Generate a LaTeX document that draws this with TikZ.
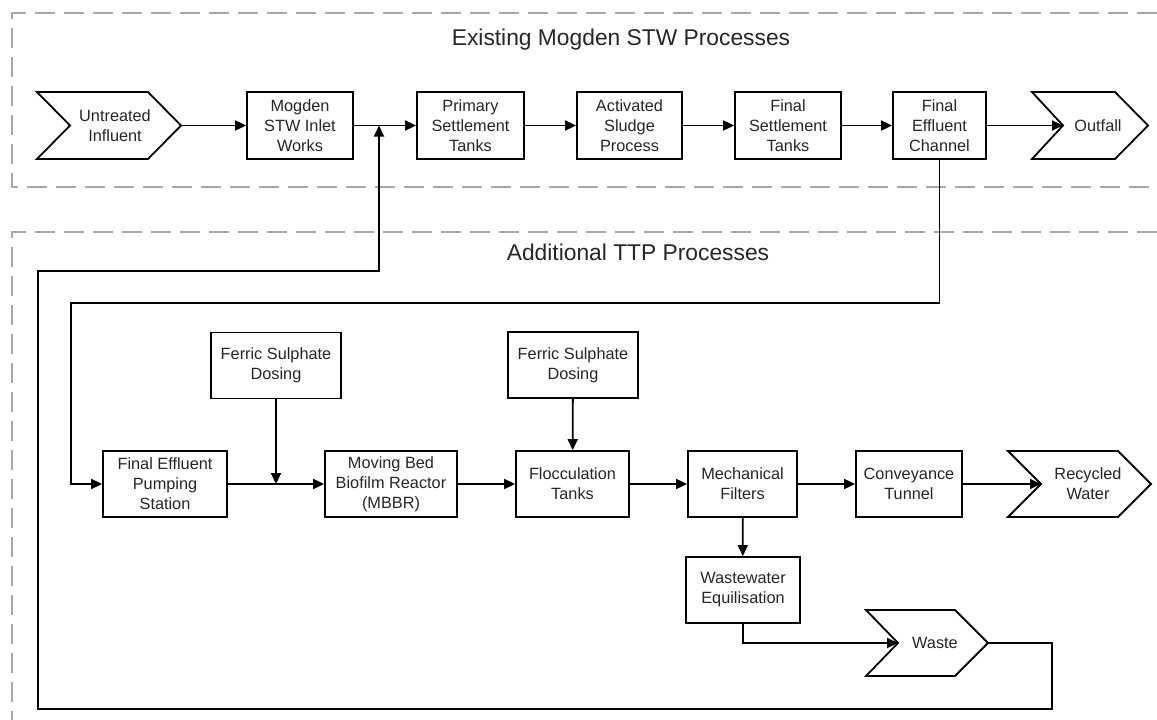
\documentclass[tikz,border=0pt]{standalone}
\usepackage{fontspec}
\setmainfont{Liberation Sans}
\usetikzlibrary{arrows.meta}
\definecolor{txt}{HTML}{262626}
\definecolor{dashc}{HTML}{A8A8A8}
\newcommand{\boxfont}{\fontsize{16.3}{20}\selectfont}
\newcommand{\titlefont}{\fontsize{22.8}{26}\selectfont}
\begin{document}
\begin{tikzpicture}[x=1pt,y=-1pt,
  box/.style={draw=black, line width=1.8pt, minimum width=#1, minimum height=67pt, inner sep=0pt, align=center, font=\boxfont, text=txt},
  sbox/.style={box=#1, minimum height=66pt},
  chev/.style={draw=black, line width=1.8pt, line join=miter},
  chevtext/.style={inner sep=0pt, align=center, font=\boxfont, text=txt},
  flow/.style={draw=black, line width=1.8pt, -{Triangle[length=11pt,width=10pt]}},
  plain/.style={draw=black, line width=1.8pt},
  group/.style={draw=dashc, line width=1.5pt, dash pattern=on 20pt off 9pt},
  title/.style={font=\titlefont, text=txt, inner sep=0pt}]
\useasboundingbox (0,0) rectangle (1157,720);

% group frames
\draw[group] (1157,13) -- (12,13) -- (12,187) -- (1157,187);
\draw[group] (1157,232) -- (12,232) -- (12,720);
\node[title] (t1) at (621,40) {Existing Mogden STW Processes};
\node[title] (t2) at (638,252) {Additional TTP Processes};

% top row
\draw[chev] (37,92) -- (148,92) -- (181,125.5) -- (148,159) -- (37,159) -- (70,125.5) -- cycle;
\node[chevtext] (untreated) at (115,125.5) {Untreated\\Influent};
\coordinate (untreatedtip) at (181,125.5);
\node[box=106] (mogden) at (300,125.5) {Mogden\\STW Inlet\\Works};
\node[box=107] (primary) at (470.5,125.5) {Primary\\Settlement\\Tanks};
\node[box=105] (activated) at (629.5,125.5) {Activated\\Sludge\\Process};
\node[box=106] (fst) at (788,125.5) {Final\\Settlement\\Tanks};
\node[box=93] (fec) at (939.5,125.5) {Final\\Effluent\\Channel};
\draw[chev] (1032,92) -- (1115,92) -- (1148,125.5) -- (1115,159) -- (1032,159) -- (1063,125.5) -- cycle;
\node[chevtext] (outfall) at (1098,125.5) {Outfall};
\coordinate (outfallnotch) at (1063,125.5);
\coordinate (j1) at (379,125.5);

% bottom row
\node[sbox=130] (ferric1) at (276,365.5) {Ferric Sulphate\\Dosing};
\node[sbox=130] (ferric2) at (573,365) {Ferric Sulphate\\Dosing};
\node[sbox=124] (feps) at (165,484) {Final Effluent\\Pumping\\Station};
\node[sbox=132] (mbbr) at (391,484) {Moving Bed\\Biofilm Reactor\\(MBBR)};
\node[sbox=113] (floc) at (572.5,484) {Flocculation\\Tanks};
\node[sbox=109] (mech) at (742.5,484) {Mechanical\\Filters};
\node[sbox=106] (conv) at (909,484) {Conveyance\\Tunnel};
\draw[chev] (1008,451) -- (1118,451) -- (1151,484) -- (1118,517) -- (1008,517) -- (1041,484) -- cycle;
\node[chevtext] (recycled) at (1088,484) {Recycled\\Water};
\coordinate (recyclednotch) at (1041,484);
\node[sbox=114] (we) at (743,590) {Wastewater\\Equilisation};
\draw[chev] (866,610) -- (955,610) -- (988,643) -- (955,676) -- (866,676) -- (898,643) -- cycle;
\node[chevtext] (waste) at (935,643) {Waste};
\coordinate (wastenotch) at (898,643);
\coordinate (wastetip) at (988,643);
\coordinate (j2) at (276,484);

% connectors top
\draw[flow] (untreatedtip) -- (mogden);
\draw[flow] (mogden) -- (primary);
\draw[flow] (primary) -- (activated);
\draw[flow] (activated) -- (fst);
\draw[flow] (fst) -- (fec);
\draw[flow] (fec) -- (outfallnotch);

% final effluent to pumping station
\draw[flow] (fec.south) -- (939.5,303) -- (71,303) -- (71,484) -- (feps);

% bottom row connectors
\draw[flow] (feps) -- (mbbr);
\draw[flow] (ferric1) -- (j2);
\draw[flow] (mbbr) -- (floc);
\draw[flow] (ferric2) -- (floc);
\draw[flow] (floc) -- (mech);
\draw[flow] (mech) -- (conv);
\draw[flow] (conv) -- (recyclednotch);
\draw[flow] (mech) -- (we);
\draw[flow] (we.south) -- (743,643) -- (wastenotch);

% waste return loop
\draw[flow] (wastetip) -- (1052,643) -- (1052,709) -- (38,709) -- (38,271) -- (379,271) -- (j1);
\end{tikzpicture}
\end{document}
